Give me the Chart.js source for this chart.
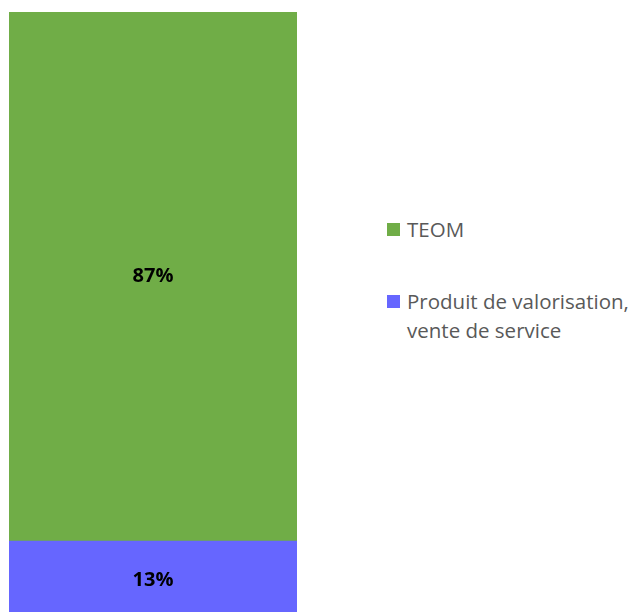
<!DOCTYPE html>
<html>
<head>
<meta charset="utf-8">
<script src="https://cdn.jsdelivr.net/npm/chart.js@4"></script>
<style>
  html, body { margin: 0; padding: 0; background: #fff; overflow: hidden; }
  #wrap { position: absolute; left: 0; top: 0; width: 306px; height: 620px; }
  #legend { position: absolute; left: 387px; top: 215px; font-family: "Open Sans", sans-serif; font-size: 20.5px; color: #595959; }
  .item { position: relative; padding-left: 20px; line-height: 29px; margin-bottom: 43px; }
  .box { position: absolute; left: 0; top: 8px; width: 13px; height: 13px; }
</style>
</head>
<body>
<div id="wrap"><canvas id="myChart"></canvas></div>
<div id="legend"></div>
<script>
// one stacked column, shares in percent
const categories = [''];
const seriesNames = ['Produit de valorisation, vente de service', 'TEOM'];
const legendLines = [['TEOM'], ['Produit de valorisation,', 'vente de service']];
const produitValues = [13];
const teomValues = [87];
const colors = ['#6666ff', '#70ad47'];

const labelPlugin = {
    id: 'barLabels',
    afterDatasetsDraw(chart) {
        const ctx = chart.ctx;
        ctx.save();
        ctx.font = 'bold 20px "Open Sans", sans-serif';
        ctx.fillStyle = '#000';
        ctx.textAlign = 'center';
        ctx.textBaseline = 'middle';
        chart.data.datasets.forEach((ds, i) => {
            chart.getDatasetMeta(i).data.forEach((bar, j) => {
                const mid = (bar.y + bar.base) / 2;
                ctx.fillText(ds.data[j] + '%', bar.x, mid);
            });
        });
        ctx.restore();
    }
};

const ctx = document.getElementById('myChart').getContext('2d');
new Chart(ctx, {
    type: 'bar',
    data: {
        labels: categories,
        datasets: [{
            label: seriesNames[0],
            data: produitValues,
            backgroundColor: colors[0]
        }, {
            label: seriesNames[1],
            data: teomValues,
            backgroundColor: colors[1]
        }]
    },
    options: {
        responsive: true,
        maintainAspectRatio: false,
        animation: false,
        layout: { padding: { left: 9, right: 9, top: 12, bottom: 0 } },
        datasets: { bar: { categoryPercentage: 1, barPercentage: 1 } },
        scales: {
            x: { stacked: true, display: false },
            y: { stacked: true, display: false, min: 0, max: 100 }
        },
        plugins: { legend: { display: false }, tooltip: { enabled: false } }
    },
    plugins: [labelPlugin]
});

// legend on the right, TEOM first
const legend = document.getElementById('legend');
[1, 0].forEach((s, k) => {
    const item = document.createElement('div');
    item.className = 'item';
    const box = document.createElement('span');
    box.className = 'box';
    box.style.background = colors[s];
    item.appendChild(box);
    item.appendChild(document.createTextNode(legendLines[k].join('\n')));
    item.style.whiteSpace = 'pre';
    legend.appendChild(item);
});
</script>
</body>
</html>
